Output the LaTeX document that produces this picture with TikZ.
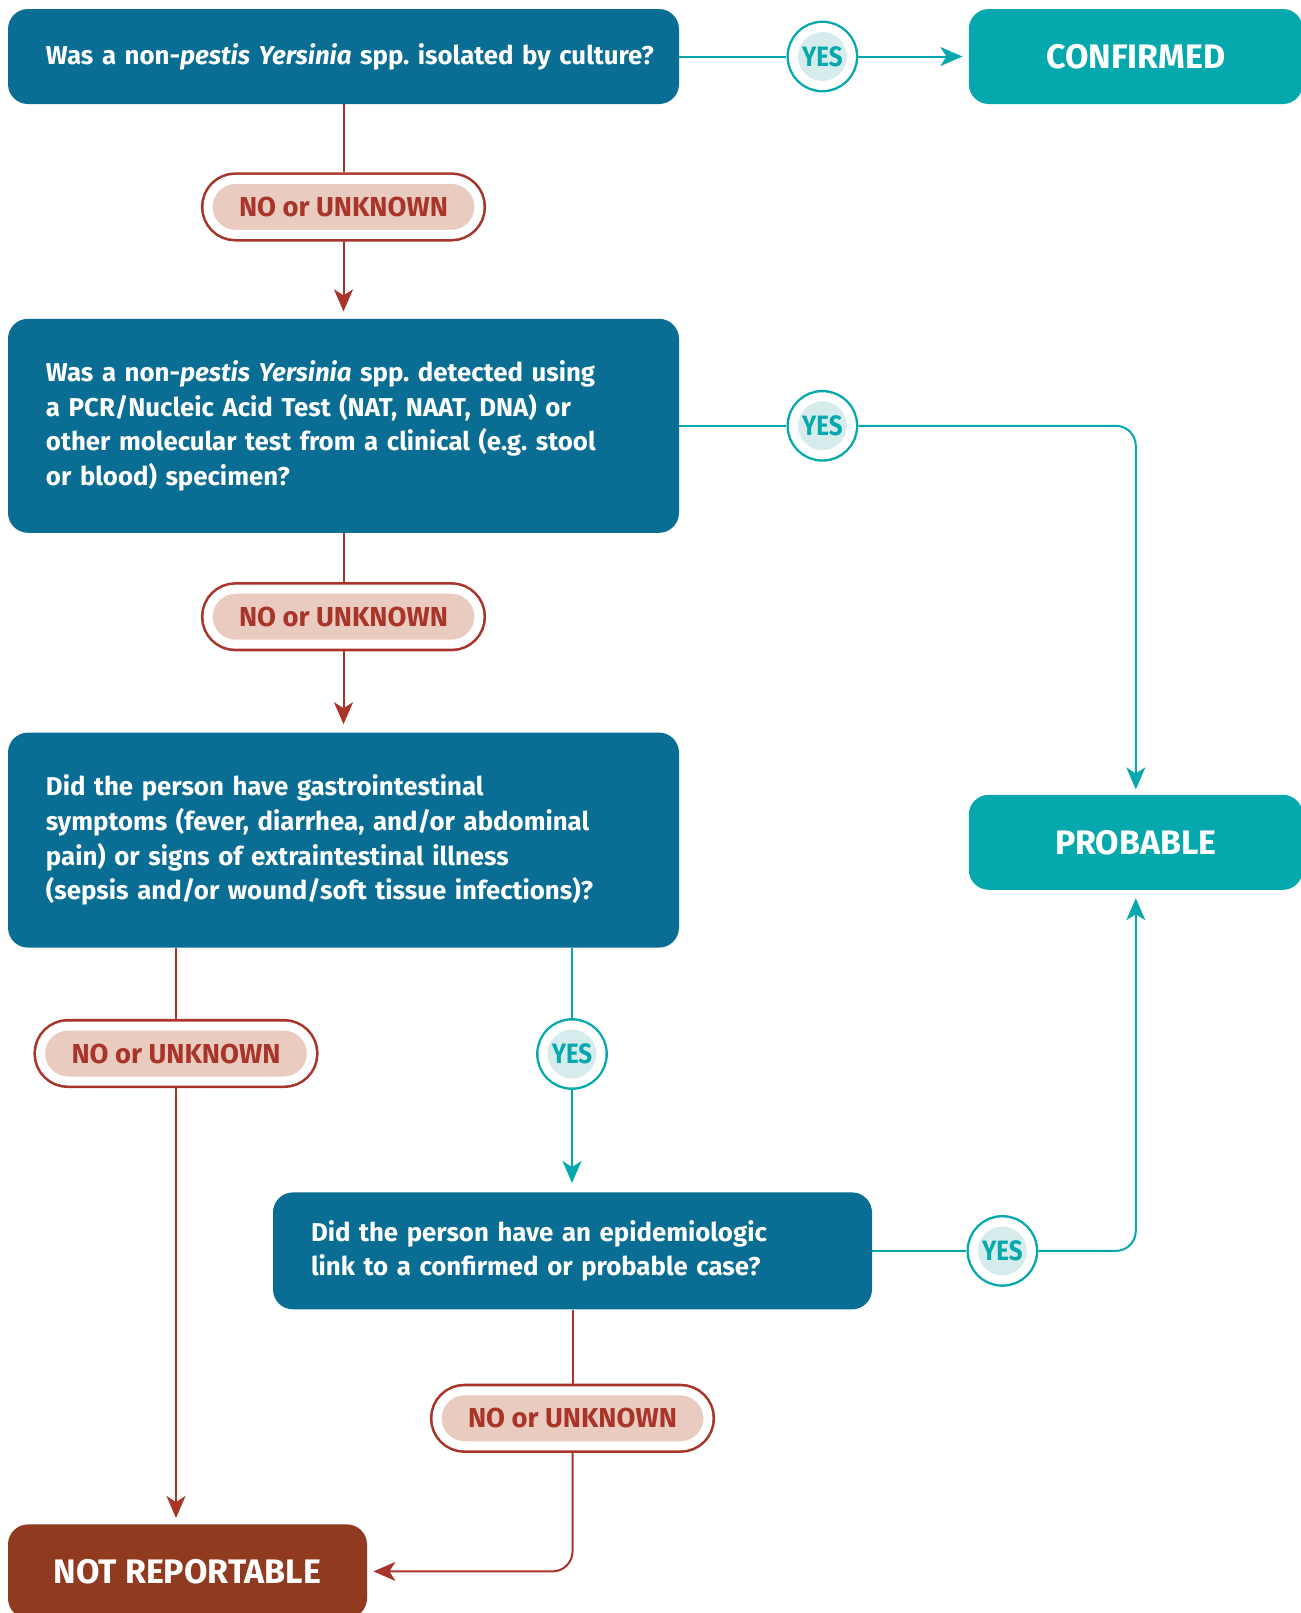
\documentclass[tikz,border=0pt]{standalone}
\usepackage{fontspec}
\setmainfont{Fira Sans}
\newfontfamily\yesfont{Fira Sans}[FakeStretch=0.86]
\usetikzlibrary{positioning, calc, arrows.meta}
\frenchspacing

\definecolor{qblue}{HTML}{0A6E94}
\definecolor{teal}{HTML}{05A8AD}
\definecolor{tealpale}{HTML}{D5EBEC}
\definecolor{noreddark}{HTML}{903A1F}
\definecolor{nored}{HTML}{A8342A}
\definecolor{pillpale}{HTML}{EACBBF}

\begin{document}
\begin{tikzpicture}[
        x=0.5pt, y=-0.5pt,
        question/.style={
            rectangle, rounded corners=10pt, fill=qblue, text=white,
            align=left, text width=297.5pt, inner xsep=19pt,
            font=\fontsize{12.9}{17.3}\selectfont\bfseries
        },
        outcome/.style={
            rectangle, rounded corners=10pt, text=white,
            minimum width=167pt, minimum height=47.5pt,
            font=\fontsize{17}{20}\selectfont\bfseries
        },
        nopill/.style={
            rectangle, rounded corners=13.75pt, fill=pillpale, text=nored,
            draw=white, line width=4.5pt,
            preaction={draw=nored, line width=7.1pt},
            minimum width=135.5pt, minimum height=27.5pt, outer sep=3.5pt,
            font=\fontsize{13.7}{15}\selectfont\bfseries
        },
        yesdot/.style={
            circle, fill=tealpale, text=teal, inner sep=0pt,
            draw=white, line width=4.5pt,
            preaction={draw=teal, line width=6.9pt},
            minimum size=29pt, outer sep=3.5pt,
            font=\fontsize{14}{15}\yesfont\bfseries
        },
        yesline/.style={draw=teal, line width=1pt},
        noline/.style={draw=nored, line width=1pt},
        >={Stealth[length=11pt, width=9.5pt, inset=3pt]},
    ]
    \useasboundingbox (0,0) rectangle (1301,1613);

    % Question blocks
    \node [question, minimum height=47.5pt] (q1) at (343.5,56.5)
        {\mbox{Was a non-\textit{pestis Yersinia} spp. isolated by culture?}};
    \node [question, minimum height=107pt, below=107pt of q1] (q2)
        {Was a non-\textit{pestis Yersinia} spp. detected using\\
         a PCR/Nucleic Acid Test (NAT, NAAT, DNA) or\\
         other molecular test from a clinical (e.g. stool\\
         or blood) specimen?};
    \node [question, minimum height=107.5pt, below=99.5pt of q2] (q3)
        {Did the person have gastrointestinal\\
         symptoms (fever, diarrhea, and/or abdominal\\
         pain) or signs of extraintestinal illness\\
         (sepsis and/or wound/soft tissue infections)?};
    \node [question, text width=261.5pt, minimum height=58.5pt,
           below=122pt of q3, xshift=114.5pt] (q4)
        {Did the person have an epidemiologic\\
         link to a confirmed or probable case?};

    % Outcome blocks
    \node [outcome, fill=teal, right=144.5pt of q1] (confirmed) {CONFIRMED};
    \node [outcome, fill=teal, below=345pt of confirmed] (probable) {PROBABLE};
    \node [outcome, fill=noreddark, minimum width=179.5pt, minimum height=47pt,
           below=288pt of q3.south west, anchor=north west] (notrep) {NOT REPORTABLE};

    % Answers
    \node [yesdot, right=53.5pt of q1] (yes1) {YES};
    \node [yesdot, right=53.5pt of q2] (yes2) {YES};
    \node [yesdot, below=35pt of q3, xshift=114.25pt] (yes3) {YES};
    \node [yesdot, right=47pt of q4] (yes4) {YES};
    \node [nopill, below=34pt of q1] (no1) {NO or UNKNOWN};
    \node [nopill, below=24.5pt of q2] (no2) {NO or UNKNOWN};
    \node [nopill, below=35.5pt of q3, xshift=-83.75pt] (no3) {NO or UNKNOWN};
    \node [nopill, below=37pt of q4] (no4) {NO or UNKNOWN};

    % Arrows
    \draw [yesline] (q1) -- (yes1);
    \draw [yesline, ->, shorten >=3pt] (yes1) -- (confirmed);
    \draw [yesline] (q2) -- (yes2);
    \draw [yesline, ->, rounded corners=10pt, shorten >=2.5pt] (yes2) -| (probable);
    \draw [yesline] (yes3) -- (yes3 |- q3.south);
    \draw [yesline, ->, shorten >=4.5pt] (yes3) -- (yes3 |- q4.north);
    \draw [yesline] (q4) -- (yes4);
    \draw [yesline, ->, rounded corners=10pt, shorten >=4pt] (yes4) -| (probable);

    \draw [noline] (q1) -- (no1);
    \draw [noline, ->, shorten >=3.5pt] (no1) -- (q2);
    \draw [noline] (q2) -- (no2);
    \draw [noline, ->, shorten >=4pt] (no2) -- (q3);
    \draw [noline] (no3) -- (no3 |- q3.south);
    \draw [noline, ->, shorten >=3pt] (no3) -- (no3 |- notrep.north);
    \draw [noline] (q4) -- (no4);
    \draw [noline, ->, rounded corners=10pt, shorten >=3pt] (no4) |- (notrep);
\end{tikzpicture}
\end{document}
